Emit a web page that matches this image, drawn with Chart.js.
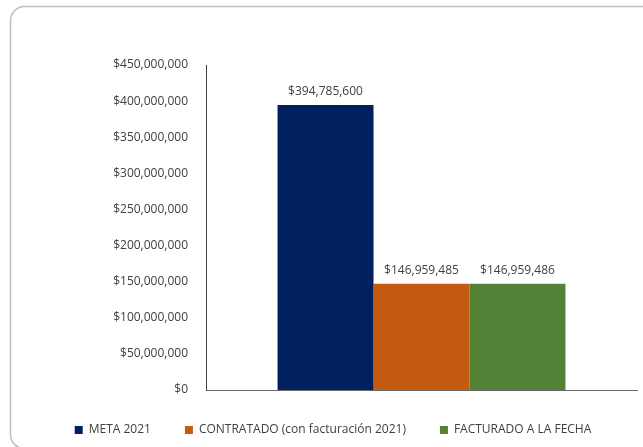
<!DOCTYPE html>
<html>
<head>
<meta charset="utf-8">
<script src="https://cdn.jsdelivr.net/npm/chart.js@4/dist/chart.umd.min.js"></script>
<style>
    html, body { margin: 0; padding: 0; background: #fff; }
    #wrap { width: 643px; height: 447px; position: relative; }
</style>
</head>
<body>
<div id="wrap"><canvas id="metaChart"></canvas></div>
<script>
// Datos del grafico
const categorias = [''];
const series = ['META 2021', 'CONTRATADO (con facturación 2021)', 'FACTURADO A LA FECHA'];
const valores = [394785600, 146959485, 146959486];
const colores = ['#002060', '#C55A11', '#538135'];
const ejeMax = 450000000;
const ejePaso = 50000000;

const moneda = v => '$' + Number(v).toLocaleString('en-US');

// Marco redondeado alrededor del grafico
const marco = {
    id: 'marco',
    beforeDraw(chart) {
        const ctx = chart.ctx;
        ctx.save();
        ctx.fillStyle = '#fff';
        ctx.fillRect(0, 0, chart.width, chart.height);
        ctx.strokeStyle = '#bfbfbf';
        ctx.lineWidth = 1.5;
        ctx.beginPath();
        ctx.roundRect(10.5, 6.5, 700, 442, 14);
        ctx.stroke();
        ctx.restore();
    }
};

// Etiquetas de valor encima de cada barra
const etiquetas = {
    id: 'etiquetas',
    afterDatasetsDraw(chart) {
        const ctx = chart.ctx;
        ctx.save();
        ctx.font = '12px "Open Sans"';
        ctx.fillStyle = '#404040';
        ctx.textAlign = 'center';
        ctx.textBaseline = 'middle';
        chart.data.datasets.forEach((ds, i) => {
            chart.getDatasetMeta(i).data.forEach((bar, j) => {
                ctx.fillText(moneda(ds.data[j]), bar.x, bar.y - 13);
            });
        });
        ctx.restore();
    }
};

const ctx = document.getElementById('metaChart').getContext('2d');
new Chart(ctx, {
    type: 'bar',
    data: {
        labels: categorias,
        datasets: series.map((nombre, i) => ({
            label: nombre,
            data: [valores[i]],
            backgroundColor: colores[i],
            borderWidth: 0
        }))
    },
    options: {
        responsive: true,
        maintainAspectRatio: false,
        animation: false,
        categoryPercentage: 0.668,
        barPercentage: 1,
        layout: {
            padding: { top: 65, right: 6, bottom: 1, left: 29 }
        },
        plugins: {
            legend: {
                position: 'bottom',
                labels: {
                    boxWidth: 8,
                    boxHeight: 8,
                    padding: 34,
                    color: '#404040',
                    font: { family: 'Open Sans', size: 12 }
                }
            },
            tooltip: { enabled: false }
        },
        scales: {
            x: {
                grid: { display: false, drawTicks: false },
                ticks: { display: false },
                border: { display: true, color: '#6b6b6b', width: 1 }
            },
            y: {
                min: 0,
                max: ejeMax,
                afterFit(scale) { scale.width = 177; },
                grid: { display: false, drawTicks: false },
                border: { display: true, color: '#404040', width: 1 },
                ticks: {
                    stepSize: ejePaso,
                    padding: 18,
                    color: '#404040',
                    font: { family: 'Open Sans', size: 12 },
                    callback: v => moneda(v)
                }
            }
        }
    },
    plugins: [marco, etiquetas]
});
</script>
</body>
</html>
